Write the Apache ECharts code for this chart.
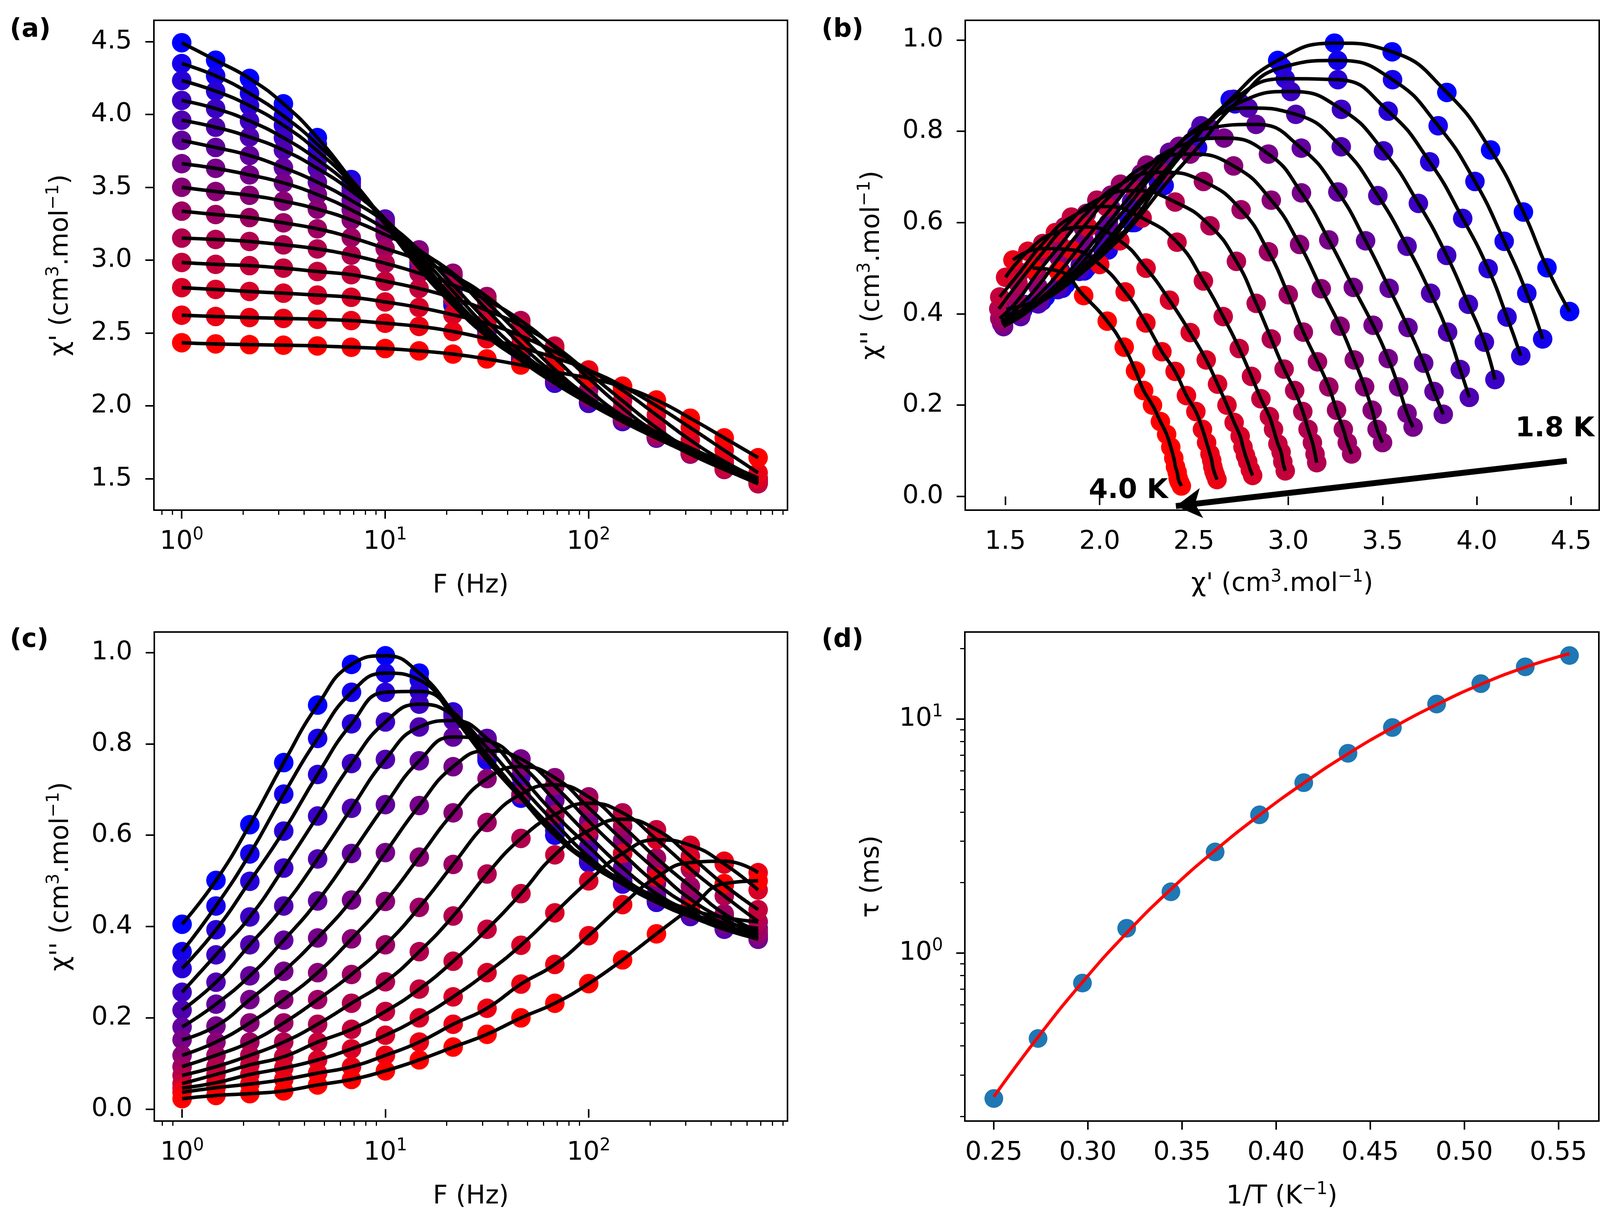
<!DOCTYPE html>
<html>
<head>
<meta charset="utf-8">
<script src="https://cdn.jsdelivr.net/npm/echarts@6.0.0/dist/echarts.min.js"></script>
<style>
html, body { margin: 0; padding: 0; background: #fff; }
#chart { width: 4145px; height: 3131px; }
</style>
</head>
<body>
<div id="chart"></div>
<script>
// AC susceptibility, 14 temperatures: row 0 = 1.8 K (blue) ... row 13 = 4.0 K (red)
var freq = [1, 1.468, 2.154, 3.162, 4.642, 6.813, 10, 14.68, 21.54, 31.62, 46.42, 68.13, 100, 146.8, 215.4, 316.2, 464.2, 681.3];

var chiIn = [
  [4.492, 4.372, 4.247, 4.073, 3.841, 3.551, 3.245, 2.944, 2.692, 2.478, 2.315, 2.170, 2.045, 1.930, 1.820, 1.712, 1.606, 1.505],
  [4.349, 4.265, 4.145, 3.990, 3.795, 3.553, 3.262, 2.967, 2.718, 2.519, 2.342, 2.185, 2.045, 1.918, 1.802, 1.694, 1.592, 1.494],
  [4.233, 4.160, 4.060, 3.925, 3.750, 3.530, 3.263, 2.984, 2.711, 2.487, 2.311, 2.155, 2.017, 1.892, 1.778, 1.673, 1.574, 1.480],
  [4.096, 4.040, 3.955, 3.840, 3.690, 3.505, 3.282, 3.014, 2.743, 2.515, 2.333, 2.170, 2.026, 1.898, 1.782, 1.675, 1.575, 1.480],
  [3.960, 3.912, 3.845, 3.755, 3.630, 3.475, 3.281, 3.040, 2.787, 2.537, 2.331, 2.169, 2.025, 1.897, 1.782, 1.677, 1.581, 1.490],
  [3.822, 3.773, 3.718, 3.635, 3.535, 3.410, 3.263, 3.069, 2.829, 2.582, 2.370, 2.199, 2.046, 1.911, 1.791, 1.682, 1.583, 1.490],
  [3.662, 3.630, 3.585, 3.530, 3.450, 3.345, 3.215, 3.070, 2.895, 2.660, 2.420, 2.220, 2.060, 1.918, 1.793, 1.683, 1.582, 1.490],
  [3.500, 3.471, 3.445, 3.405, 3.350, 3.275, 3.175, 3.060, 2.910, 2.710, 2.480, 2.250, 2.060, 1.912, 1.785, 1.672, 1.572, 1.480],
  [3.336, 3.313, 3.292, 3.256, 3.215, 3.155, 3.080, 3.000, 2.895, 2.750, 2.550, 2.330, 2.110, 1.930, 1.790, 1.668, 1.563, 1.470],
  [3.151, 3.142, 3.128, 3.105, 3.077, 3.034, 2.978, 2.910, 2.830, 2.725, 2.585, 2.400, 2.190, 1.985, 1.815, 1.682, 1.567, 1.465],
  [2.984, 2.971, 2.962, 2.945, 2.922, 2.900, 2.855, 2.805, 2.740, 2.655, 2.550, 2.410, 2.225, 2.035, 1.850, 1.698, 1.577, 1.470],
  [2.811, 2.799, 2.785, 2.773, 2.760, 2.745, 2.713, 2.675, 2.625, 2.565, 2.480, 2.370, 2.246, 2.107, 1.937, 1.765, 1.619, 1.501],
  [2.622, 2.613, 2.606, 2.600, 2.594, 2.585, 2.567, 2.545, 2.510, 2.460, 2.400, 2.330, 2.245, 2.135, 2.000, 1.850, 1.695, 1.540],
  [2.433, 2.425, 2.420, 2.416, 2.411, 2.402, 2.393, 2.377, 2.355, 2.322, 2.280, 2.233, 2.190, 2.130, 2.040, 1.915, 1.780, 1.644]
];

var chiOut = [
  [0.405, 0.501, 0.623, 0.759, 0.885, 0.974, 0.993, 0.955, 0.869, 0.770, 0.685, 0.600, 0.547, 0.500, 0.465, 0.437, 0.420, 0.410],
  [0.345, 0.445, 0.559, 0.690, 0.812, 0.913, 0.955, 0.940, 0.860, 0.764, 0.681, 0.600, 0.540, 0.494, 0.456, 0.428, 0.408, 0.396],
  [0.308, 0.393, 0.499, 0.609, 0.733, 0.844, 0.913, 0.915, 0.870, 0.776, 0.688, 0.610, 0.540, 0.493, 0.453, 0.422, 0.400, 0.386],
  [0.256, 0.338, 0.421, 0.528, 0.642, 0.757, 0.848, 0.887, 0.863, 0.792, 0.707, 0.627, 0.553, 0.498, 0.457, 0.422, 0.397, 0.379],
  [0.217, 0.278, 0.360, 0.445, 0.548, 0.659, 0.766, 0.837, 0.851, 0.812, 0.729, 0.646, 0.575, 0.507, 0.462, 0.424, 0.394, 0.373],
  [0.180, 0.230, 0.292, 0.370, 0.456, 0.560, 0.667, 0.763, 0.815, 0.807, 0.754, 0.676, 0.599, 0.529, 0.472, 0.432, 0.398, 0.372],
  [0.152, 0.182, 0.240, 0.302, 0.375, 0.458, 0.562, 0.665, 0.750, 0.785, 0.767, 0.707, 0.631, 0.560, 0.494, 0.444, 0.406, 0.375],
  [0.118, 0.147, 0.189, 0.240, 0.299, 0.373, 0.455, 0.552, 0.649, 0.724, 0.750, 0.726, 0.660, 0.589, 0.523, 0.460, 0.416, 0.382],
  [0.093, 0.118, 0.147, 0.189, 0.240, 0.295, 0.360, 0.442, 0.536, 0.628, 0.690, 0.710, 0.684, 0.620, 0.550, 0.488, 0.428, 0.390],
  [0.074, 0.093, 0.118, 0.147, 0.186, 0.232, 0.279, 0.345, 0.423, 0.515, 0.593, 0.645, 0.670, 0.649, 0.591, 0.526, 0.467, 0.411],
  [0.056, 0.076, 0.097, 0.115, 0.147, 0.175, 0.214, 0.263, 0.324, 0.394, 0.472, 0.557, 0.610, 0.635, 0.612, 0.554, 0.491, 0.437],
  [0.046, 0.058, 0.076, 0.090, 0.108, 0.132, 0.162, 0.200, 0.246, 0.299, 0.359, 0.430, 0.500, 0.560, 0.590, 0.578, 0.537, 0.480],
  [0.037, 0.047, 0.055, 0.065, 0.079, 0.093, 0.118, 0.147, 0.186, 0.221, 0.274, 0.317, 0.380, 0.448, 0.508, 0.540, 0.543, 0.518],
  [0.023, 0.030, 0.034, 0.040, 0.053, 0.065, 0.084, 0.108, 0.136, 0.164, 0.200, 0.232, 0.275, 0.327, 0.384, 0.440, 0.494, 0.500]
];

// relaxation time vs inverse temperature: measured points and the fitted curve read at the same 1/T
var invT = [0.2500, 0.2735, 0.2971, 0.3206, 0.3441, 0.3676, 0.3912, 0.4147, 0.4382, 0.4618, 0.4853, 0.5088, 0.5324, 0.5559];
var tau = [0.2385, 0.4305, 0.743, 1.274, 1.824, 2.70, 3.89, 5.34, 7.13, 9.19, 11.58, 14.15, 16.70, 18.67];
var tauFit = [0.2427, 0.4365, 0.7499, 1.2162, 1.8707, 2.7416, 3.8815, 5.3211, 7.0958, 9.1622, 11.508, 14.06, 16.634, 19.011];

// tick values
var freqMajor = [1, 10, 100];
var freqMinor = [0.8, 0.9, 2, 3, 4, 5, 6, 7, 8, 9, 20, 30, 40, 50, 60, 70, 80, 90, 200, 300, 400, 500, 600, 700, 800, 900];
var chiInTicks = [1.5, 2.0, 2.5, 3.0, 3.5, 4.0, 4.5];
var chiOutTicks = [0, 0.2, 0.4, 0.6, 0.8, 1.0];
var invTTicks = [0.25, 0.30, 0.35, 0.40, 0.45, 0.50, 0.55];
var tauMajor = [1, 10];
var tauMinor = [0.2, 0.3, 0.4, 0.5, 0.6, 0.7, 0.8, 0.9, 2, 3, 4, 5, 6, 7, 8, 9, 20];

var FONT = 'DejaVu Sans';
var FS = 66;
var rich = {
  n: { fontFamily: FONT, fontSize: FS, lineHeight: 80, color: '#000' },
  s: { fontFamily: FONT, fontSize: 44, lineHeight: 40, verticalAlign: 'top', color: '#000' }
};
var tickLine = { color: '#000', width: 4 };

function powLabel(v) {
  var e = Math.round(Math.log10(v));
  return '{n|10}{s|' + e + '}';
}
function majorLog(grid, pos, min, max, ticks, name, nameGap) {
  return {
    type: 'log', gridIndex: grid, position: pos, min: min, max: max, logBase: 10,
    axisLine: { show: false }, splitLine: { show: false },
    axisTick: { customValues: ticks, length: 22, lineStyle: tickLine },
    axisLabel: { customValues: ticks, margin: 42, formatter: powLabel, rich: rich },
    name: name, nameLocation: 'middle', nameGap: nameGap,
    nameTextStyle: { rich: rich }
  };
}
function minorLog(grid, pos, min, max, ticks) {
  return {
    type: 'log', gridIndex: grid, position: pos, min: min, max: max, logBase: 10,
    axisLine: { show: false }, splitLine: { show: false },
    axisTick: { customValues: ticks, length: 12, lineStyle: { color: '#000', width: 3 } },
    axisLabel: { show: false }
  };
}
function valueAxis(grid, pos, min, max, ticks, digits, name, nameGap, margin) {
  return {
    type: 'value', gridIndex: grid, position: pos, min: min, max: max, scale: true,
    axisLine: { show: false }, splitLine: { show: false },
    axisTick: { customValues: ticks, length: 22, lineStyle: tickLine },
    axisLabel: {
      customValues: ticks, margin: margin,
      formatter: function (v) { return '{n|' + v.toFixed(digits) + '}'; },
      rich: rich
    },
    name: name, nameLocation: 'middle', nameGap: nameGap,
    nameTextStyle: { rich: rich }
  };
}

var chiPrimeName = '{n|χ\' (cm}{s|3}{n|.mol}{s|−1}{n|)}';
var chiSecName = '{n|χ\'\' (cm}{s|3}{n|.mol}{s|−1}{n|)}';

var grids = [
  { left: 394, top: 52, width: 1622, height: 1254 },
  { left: 2471, top: 52, width: 1623, height: 1254 },
  { left: 395, top: 1618, width: 1621, height: 1252 },
  { left: 2470, top: 1618, width: 1623, height: 1252 }
];
grids.forEach(function (g) {
  g.show = true; g.borderColor = '#000'; g.borderWidth = 4; g.backgroundColor = 'transparent';
});

var xAxes = [
  majorLog(0, 'bottom', 0.73, 950, freqMajor, '{n|F (Hz)}', 154),
  minorLog(0, 'bottom', 0.73, 950, freqMinor),
  valueAxis(1, 'bottom', 1.287, 4.649, chiInTicks, 1, chiPrimeName, 150, 42),
  majorLog(2, 'bottom', 0.73, 950, freqMajor, '{n|F (Hz)}', 154),
  minorLog(2, 'bottom', 0.73, 950, freqMinor),
  valueAxis(3, 'bottom', 0.2346, 0.5715, invTTicks, 2, '{n|1/T (K}{s|−1}{n|)}', 154, 42)
];
var yAxes = [
  valueAxis(0, 'left', 1.284, 4.646, chiInTicks, 1, chiPrimeName, 198, 56),
  valueAxis(1, 'left', -0.030, 1.043, chiOutTicks, 1, chiSecName, 198, 56),
  valueAxis(2, 'left', -0.026, 1.045, chiOutTicks, 1, chiSecName, 198, 56),
  majorLog(3, 'left', 0.191, 23.53, tauMajor, '{n|τ (ms)}', 198),
  minorLog(3, 'left', 0.191, 23.53, tauMinor)
];
yAxes[3].axisLabel.margin = 56;

function tempColor(i) {
  var t = i / (chiIn.length - 1);
  return 'rgb(' + Math.round(255 * t) + ',0,' + Math.round(255 * (1 - t)) + ')';
}

var series = [];
// dots first (blue to red), fit lines on top
for (var i = 0; i < chiIn.length; i++) {
  var c = tempColor(i);
  var a = [], b = [], d = [];
  for (var k = 0; k < freq.length; k++) {
    a.push([freq[k], chiIn[i][k]]);
    b.push([chiIn[i][k], chiOut[i][k]]);
    d.push([freq[k], chiOut[i][k]]);
  }
  series.push({ type: 'scatter', xAxisIndex: 0, yAxisIndex: 0, data: a, symbolSize: 50, itemStyle: { color: c, opacity: 1 }, z: 2 });
  series.push({ type: 'scatter', xAxisIndex: 2, yAxisIndex: 1, data: b, symbolSize: 50, itemStyle: { color: c, opacity: 1 }, z: 2 });
  series.push({ type: 'scatter', xAxisIndex: 3, yAxisIndex: 2, data: d, symbolSize: 50, itemStyle: { color: c, opacity: 1 }, z: 2 });
  series.push({ type: 'line', xAxisIndex: 0, yAxisIndex: 0, data: a, smooth: true, showSymbol: false, lineStyle: { color: '#000', width: 9 }, z: 3 });
  series.push({ type: 'line', xAxisIndex: 2, yAxisIndex: 1, data: b, smooth: true, showSymbol: false, lineStyle: { color: '#000', width: 9 }, z: 3 });
  series.push({ type: 'line', xAxisIndex: 3, yAxisIndex: 2, data: d, smooth: true, showSymbol: false, lineStyle: { color: '#000', width: 9 }, z: 3 });
}

series.push({
  type: 'scatter', xAxisIndex: 5, yAxisIndex: 3, symbolSize: 48, z: 2,
  data: invT.map(function (x, j) { return [x, tau[j]]; }),
  itemStyle: { color: '#1f77b4', opacity: 1 }
});
series.push({
  type: 'line', xAxisIndex: 5, yAxisIndex: 3, smooth: true, showSymbol: false, z: 3,
  data: invT.map(function (x, j) { return [x, tauFit[j]]; }),
  lineStyle: { color: '#ff0000', width: 8 }
});

// temperature annotations and arrow in panel (b)
series.push({
  type: 'scatter', xAxisIndex: 2, yAxisIndex: 1, z: 5,
  data: [[4.414, 0.147, '1.8 K'], [2.152, 0.012, '4.0 K']],
  symbolSize: 2, itemStyle: { color: 'rgba(0,0,0,0)', opacity: 1 },
  label: {
    show: true, position: 'inside', color: '#000', opacity: 1, textBorderWidth: 0,
    fontFamily: FONT, fontWeight: 'bold', fontSize: 70,
    formatter: function (p) { return p.value[2]; }
  },
  markLine: {
    silent: true, animation: false,
    symbol: ['none', 'arrow'], symbolSize: [58, 66],
    label: { show: false },
    lineStyle: { color: '#000', width: 15, type: 'solid', opacity: 1 },
    data: [[{ coord: [4.477, 0.078] }, { coord: [2.404, -0.021] }]]
  }
});

var panelFont = 'bold 66px "DejaVu Sans"';
var graphics = [
  { type: 'text', left: 25, top: 44, style: { text: '(a)', font: panelFont, fill: '#000' } },
  { type: 'text', left: 2103, top: 44, style: { text: '(b)', font: panelFont, fill: '#000' } },
  { type: 'text', left: 25, top: 1606, style: { text: '(c)', font: panelFont, fill: '#000' } },
  { type: 'text', left: 2103, top: 1606, style: { text: '(d)', font: panelFont, fill: '#000' } }
];

var chart = echarts.init(document.getElementById('chart'), null, { renderer: 'canvas' });
chart.setOption({
  animation: false,
  backgroundColor: '#fff',
  textStyle: { fontFamily: FONT, color: '#000' },
  grid: grids,
  xAxis: xAxes,
  yAxis: yAxes,
  series: series,
  graphic: graphics
});
</script>
</body>
</html>
